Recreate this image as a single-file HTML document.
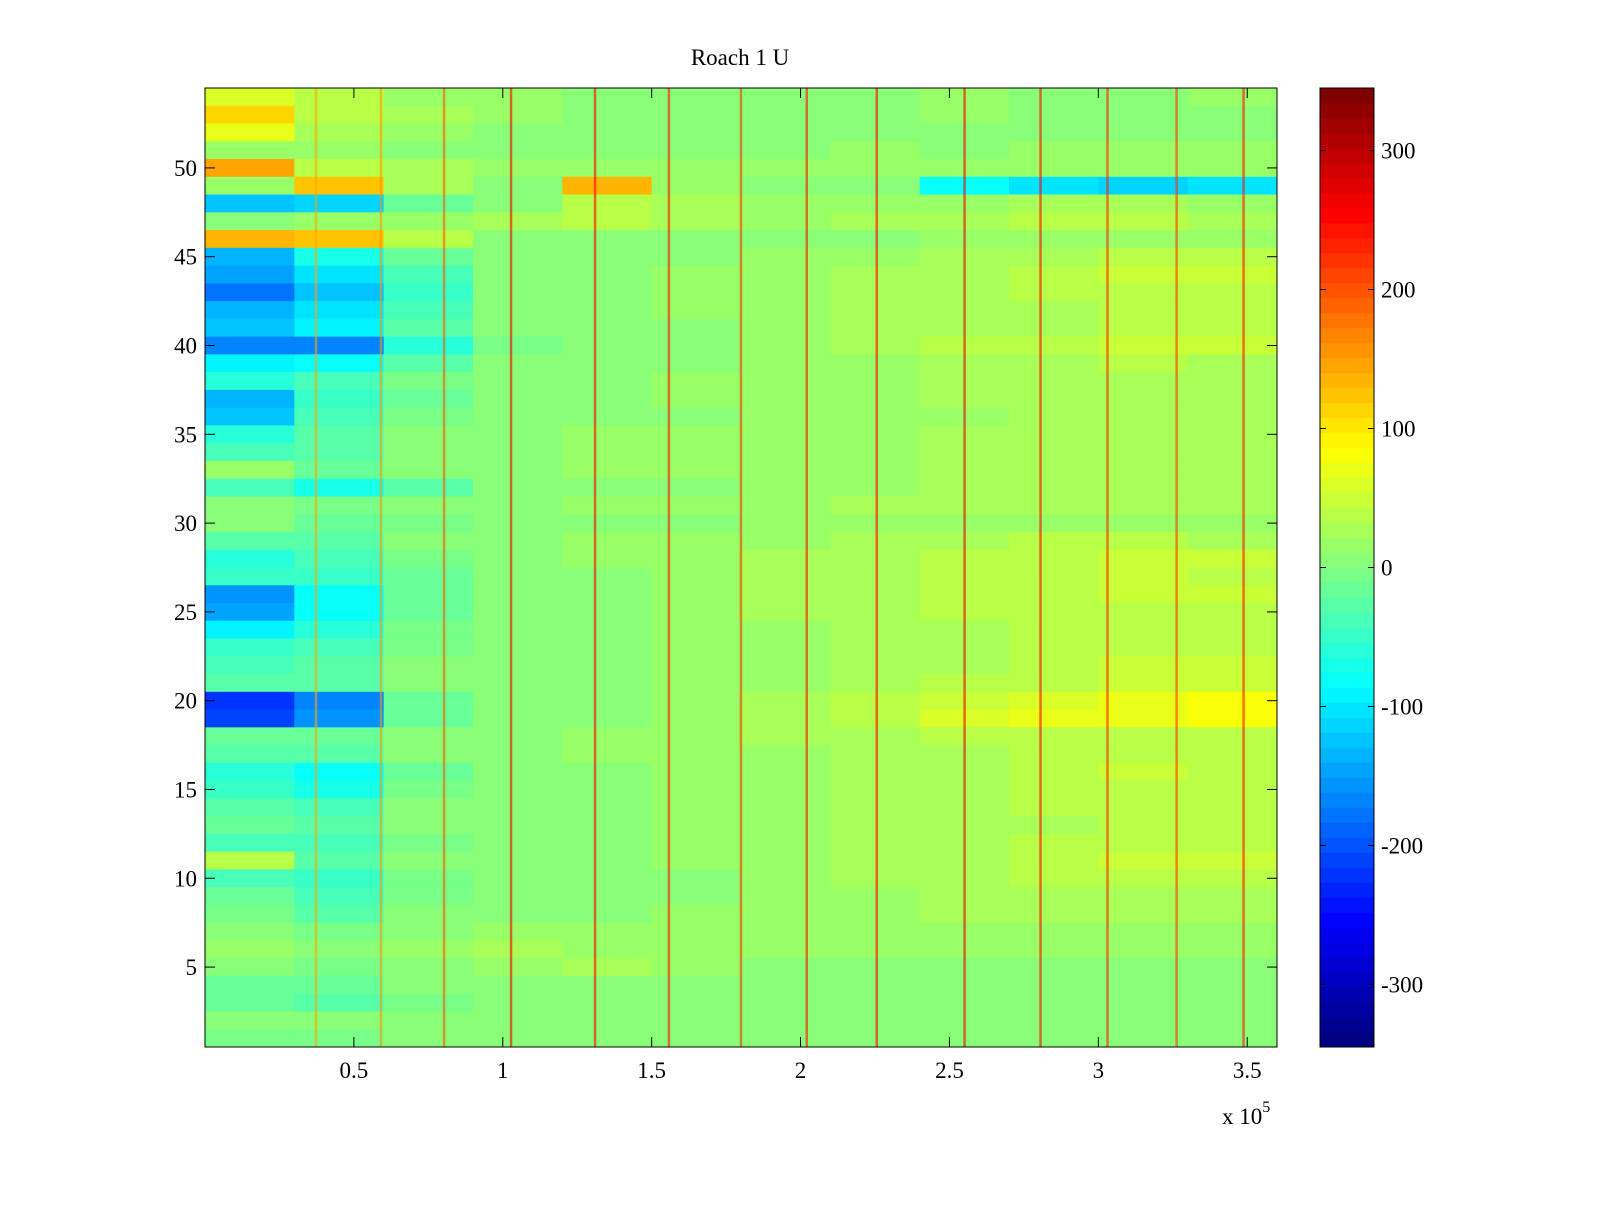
<!DOCTYPE html>
<html><head><meta charset="utf-8"><style>
body{margin:0;background:#fff;}
svg text{font-family:"Liberation Serif",serif;font-size:23px;fill:#000;}
</style></head><body>
<svg id="chart" width="1600" height="1200" xmlns="http://www.w3.org/2000/svg">
<rect width="1600" height="1200" fill="#fff"/>
<text x="740" y="65" text-anchor="middle">Roach 1 U</text>
<g id="cells"></g>
<g id="streaks"></g>
<rect x="205" y="88" width="1072" height="959" fill="none" stroke="#000" stroke-width="1"/>
<g id="axes"></g>
<g id="cbar"></g>
<text x="1222" y="1124">x 10<tspan dy="-12" font-size="16">5</tspan></text>
</svg>
<script>
const binEdges=[0,30000,60000,90000,120000,150000,180000,210000,240000,270000,300000,330000,360000];
const rowLabels=[54,53,52,51,50,49,48,47,46,45,44,43,42,41,40,39,38,37,36,35,34,33,32,31,30,29,28,27,26,25,24,23,22,21,20,19,18,17,16,15,14,13,12,11,10,9,8,7,6,5,4,3,2,1];
const values=[
[60,40,20,15,10,5,10,10,15,10,10,15],
[110,40,25,15,10,10,10,10,15,10,10,10],
[70,30,20,10,5,10,10,10,10,10,10,10],
[20,15,10,10,10,10,10,15,10,15,20,15],
[150,40,30,20,20,20,20,20,20,20,20,20],
[20,120,30,10,140,20,10,10,-80,-100,-110,-100],
[-120,-110,-20,10,40,30,20,20,20,30,30,20],
[10,20,20,30,40,30,20,30,30,40,40,30],
[130,120,40,10,10,10,10,10,20,20,20,20],
[-130,-70,-20,0,10,10,20,20,30,30,40,40],
[-150,-100,-40,0,10,20,20,30,30,40,50,50],
[-180,-120,-50,0,10,20,20,30,30,40,40,40],
[-140,-100,-40,0,10,20,20,30,30,30,40,40],
[-120,-90,-30,0,10,10,20,30,30,30,40,40],
[-170,-170,-60,-10,10,10,20,30,40,40,50,50],
[-90,-80,-30,0,10,10,20,20,30,30,40,30],
[-60,-40,-10,10,10,20,20,20,30,30,30,30],
[-140,-50,-20,10,10,20,20,20,30,30,30,30],
[-120,-40,-10,0,10,10,20,20,20,30,30,30],
[-60,-30,0,10,20,20,20,20,30,30,30,30],
[-40,-30,0,10,20,20,20,20,30,30,30,30],
[20,-20,0,10,20,20,20,20,30,30,30,30],
[-40,-70,-30,0,10,10,20,20,30,30,30,30],
[10,-10,0,10,20,20,20,30,30,30,30,30],
[0,-20,-10,0,10,10,20,20,20,20,20,20],
[-30,-30,0,10,20,20,20,30,30,40,40,30],
[-60,-40,-10,10,20,20,30,30,40,40,50,50],
[-50,-50,-20,0,10,20,30,30,40,40,50,40],
[-160,-80,-20,0,10,20,30,30,40,40,50,50],
[-150,-80,-20,0,10,20,30,30,40,40,40,40],
[-90,-60,-10,0,10,20,20,30,30,40,40,40],
[-50,-40,-10,10,10,20,20,30,30,40,40,40],
[-40,-30,0,10,10,20,20,30,30,40,50,50],
[-30,-30,0,10,10,20,20,30,40,40,50,50],
[-220,-170,-20,0,10,20,30,40,50,60,70,80],
[-210,-160,-20,0,10,20,30,40,60,70,70,80],
[-20,-20,0,10,20,20,30,30,40,40,40,40],
[-30,-30,0,10,20,20,20,30,30,40,40,40],
[-60,-80,-20,0,10,20,20,30,30,40,50,40],
[-50,-70,-10,0,10,20,20,30,30,40,40,40],
[-30,-40,0,10,10,20,20,30,30,40,40,40],
[-20,-30,0,10,10,20,20,30,30,30,40,40],
[-40,-40,-10,0,10,20,20,30,30,40,40,40],
[40,-30,0,10,10,20,20,30,30,40,50,50],
[-40,-50,-10,0,10,10,20,30,30,40,40,40],
[-20,-40,-10,0,10,10,20,20,30,30,30,30],
[-10,-30,0,10,10,20,20,20,30,30,30,30],
[0,-10,10,20,20,20,20,20,20,20,20,20],
[20,10,20,30,20,20,20,20,20,20,20,20],
[0,-10,10,20,30,20,10,10,10,10,10,10],
[-20,-20,0,10,10,10,10,10,10,10,10,10],
[-20,-30,-10,0,10,10,10,10,10,10,10,10],
[10,0,10,10,10,10,10,10,10,10,10,10],
[-10,-10,0,10,10,10,10,10,10,10,10,10]];
const streakX=[37200,59000,80200,102700,130900,155700,179900,202000,225500,255000,280500,303000,326200,348700];
const streakVal=[150,160,200,260,250,240,220,240,250,260,250,230,220,240];
const xTicks=[0.5,1,1.5,2,2.5,3,3.5];
const yTicks=[5,10,15,20,25,30,35,40,45,50];
const cTicks=[-300,-200,-100,0,100,200,300];

const L=205,R=1277,T=88,B=1047,XMAX=360000,CMIN=-345,CMAX=345;
const xs=v=>L+(v/XMAX)*(R-L);
const ys=r=>B-(r-0.5)/54*(B-T);
function jet(v){let t=(v-CMIN)/(CMAX-CMIN);t=Math.max(0,Math.min(1,Math.floor(t*64)/63));
 const f=x=>Math.max(0,Math.min(1,1.5-Math.abs(4*t-x)));
 return `rgb(${Math.round(255*f(3))},${Math.round(255*f(2))},${Math.round(255*f(1))})`;}
const NS="http://www.w3.org/2000/svg";
function mk(tag,attrs,parent){const e=document.createElementNS(NS,tag);for(const k in attrs)e.setAttribute(k,attrs[k]);parent.appendChild(e);return e;}
const cells=document.getElementById('cells');
values.forEach((row,i)=>{const r=rowLabels[i];row.forEach((v,j)=>{
 const x0=xs(binEdges[j]),x1=xs(binEdges[j+1]);
 const e=mk('rect',{x:x0,y:ys(r+0.5),width:x1-x0+0.5,height:(B-T)/54+0.5,fill:jet(v)},cells);
 
 });});
const st=document.getElementById('streaks');
streakX.forEach((x,i)=>{const e=mk('rect',{x:xs(x)-1,y:T,width:2.5,height:B-T,fill:jet(streakVal[i]),opacity:0.6},st);
 
 });
const ax=document.getElementById('axes');
xTicks.forEach(t=>{const x=xs(t*1e5);
 mk('line',{x1:x,x2:x,y1:B,y2:B-10,stroke:'#000'},ax);mk('line',{x1:x,x2:x,y1:T,y2:T+10,stroke:'#000'},ax);
 const e=mk('text',{x:x,y:B+31,'text-anchor':'middle'},ax);e.textContent=t;
 
 });
yTicks.forEach(t=>{const y=ys(t);
 mk('line',{x1:L,x2:L+10,y1:y,y2:y,stroke:'#000'},ax);mk('line',{x1:R,x2:R-10,y1:y,y2:y,stroke:'#000'},ax);
 const e=mk('text',{x:L-8,y:y+8,'text-anchor':'end'},ax);e.textContent=t;
 
 });
const cb=document.getElementById('cbar');
const CL=1320,CR=1374;const cy=v=>B-(v-CMIN)/(CMAX-CMIN)*(B-T);
for(let k=0;k<64;k++){const v0=CMIN+k*(CMAX-CMIN)/64,v1=CMIN+(k+1)*(CMAX-CMIN)/64;
 mk('rect',{x:CL,y:cy(v1),width:CR-CL,height:cy(v0)-cy(v1)+0.5,fill:jet((v0+v1)/2)},cb);}
mk('rect',{x:CL,y:T,width:CR-CL,height:B-T,fill:'none',stroke:'#000'},cb);
cTicks.forEach(t=>{const y=cy(t);
 mk('line',{x1:CL,x2:CL+6,y1:y,y2:y,stroke:'#000'},cb);mk('line',{x1:CR,x2:CR-6,y1:y,y2:y,stroke:'#000'},cb);
 const e=mk('text',{x:CR+7,y:y+8},cb);e.textContent=t;
 
 });
</script>
</body></html>
